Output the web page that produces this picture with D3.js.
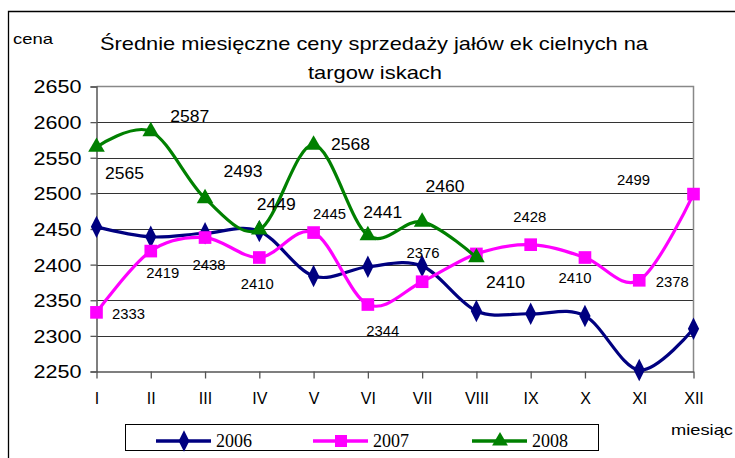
<!DOCTYPE html>
<html><head><meta charset="utf-8">
<script src="https://cdn.jsdelivr.net/npm/d3@7"></script>
<style>body{margin:0;background:#fff}svg{display:block}</style>
</head><body><svg id="c" width="735" height="458"></svg>
<script>
const months = ["I","II","III","IV","V","VI","VII","VIII","IX","X","XI","XII"];
const years = ["2006","2007","2008"];
const v2006 = [2453,2439,2444,2447,2384,2397,2398,2335,2331,2328,2252,2310];
const v2007 = [2333,2419,2438,2410,2445,2344,2376,2415,2428,2410,2378,2499];
const v2008 = [2565,2587,2493,2449,2568,2441,2460,2410,null,null,null,null];
const yTicks = [2250,2300,2350,2400,2450,2500,2550,2600,2650];
const title = ["Średnie miesięczne ceny sprzedaży jałów ek cielnych na","targow iskach"];
const yTitle = "cena", xTitle = "miesiąc";
// label offsets (px) from data point to label centre; null = no label
const off2007 = [[32,2],[12,22],[4,27],[-2,26],[16,-19],[15,26],[1,-29],null,[-1,-28],[-10,20],[33,2],[-60,-14]];
const off2008 = [[28,26],[39,-16],[38,-27],[17,-26],[37,-1],[15,-24],[23,-36],[29,24],null,null,null,null];

const svg = d3.select("#c");
const F = "'Liberation Sans', Arial, sans-serif";
const x = d3.scalePoint().domain(months).range([96.5, 693.5]);
const y = d3.scaleLinear().domain([2250, 2650]).range([371.5, 86.5]);

// outer frame
svg.append("path").attr("d","M8.5,460 V11.5 H740").attr("fill","none").attr("stroke","#000").attr("stroke-width",1.3);

// gridlines
svg.append("g").selectAll("line").data(yTicks.filter(d=>d>2250 && d<2650)).join("line")
  .attr("x1",96.5).attr("x2",693.5).attr("y1",d=>Math.round(y(d))+0.5).attr("y2",d=>Math.round(y(d))+0.5)
  .attr("stroke","#333").attr("stroke-width",1);
// plot border top/right
svg.append("path").attr("d",`M96.5,${y(2650)} H693.5 V${y(2250)}`).attr("fill","none").attr("stroke","#888").attr("stroke-width",1.5);

// y axis
const ya = svg.append("g").attr("transform","translate(96.5,0)")
  .call(d3.axisLeft(y).tickValues(yTicks).tickSize(6).tickPadding(9).tickFormat(d3.format("d")));
ya.select(".domain").attr("stroke","#555").attr("stroke-width",1.5);
ya.selectAll(".tick line").attr("stroke","#555").attr("stroke-width",1.3);
ya.selectAll("text").attr("font-family",F).attr("font-size",18).attr("fill","#000")
  .attr("textLength",48).attr("lengthAdjust","spacingAndGlyphs").attr("dy","0.36em");

// x axis
const xa = svg.append("g").attr("transform","translate(0,371.5)")
  .call(d3.axisBottom(x).tickSize(7).tickPadding(14).tickSizeOuter(0));
xa.select(".domain").attr("stroke","#555").attr("stroke-width",1.5);
xa.selectAll(".tick line").attr("stroke","#555").attr("stroke-width",1.3);
xa.selectAll("text").attr("font-family",F).attr("font-size",16).attr("fill","#000");

const line = d3.line().defined(d=>d.v!=null).x(d=>x(d.m)).y(d=>y(d.v)).curve(d3.curveCardinal.tension(0));
const series = [
  {name:"2006", vals:v2006, color:"#000080", shape:d3.symbolDiamond, size:110, offs:null},
  {name:"2007", vals:v2007, color:"#FF00FF", shape:d3.symbolSquare, size:160, offs:off2007, fs:14, tl:33},
  {name:"2008", vals:v2008, color:"#008000", shape:d3.symbolTriangle, size:120, offs:off2008, fs:17, tl:39}
];
series.forEach(s=>{
  const pts = months.map((m,i)=>({m, v:s.vals[i], o:s.offs?s.offs[i]:null}));
  const g = svg.append("g");
  g.append("path").attr("d",line(pts.filter(p=>p.v!=null))).attr("fill","none")
    .attr("stroke",s.color).attr("stroke-width",3.2);
  g.selectAll("path.m").data(pts.filter(p=>p.v!=null)).join("path").attr("class","m")
    .attr("d",d3.symbol().type(s.shape).size(s.size))
    .attr("transform",p=>`translate(${x(p.m)},${y(p.v)})${s.shape===d3.symbolDiamond?" scale(1,1.15)":""}`)
    .attr("fill",s.color);
  s.g = g;
});
// labels on top
series.forEach(s=>{
  if(!s.offs) return;
  const pts = months.map((m,i)=>({m, v:s.vals[i], o:s.offs[i]})).filter(p=>p.v!=null && p.o);
  svg.append("g").selectAll("text").data(pts).join("text")
    .attr("x",p=>x(p.m)+p.o[0]).attr("y",p=>y(p.v)+p.o[1]).attr("dy","0.36em")
    .attr("text-anchor","middle").attr("font-family",F).attr("font-size",s.fs)
    .attr("textLength",s.tl).attr("lengthAdjust","spacingAndGlyphs").text(p=>p.v);
});

// titles
svg.append("text").attr("x",374).attr("y",50).attr("text-anchor","middle").attr("font-family",F)
  .attr("font-size",19).attr("textLength",548).attr("lengthAdjust","spacingAndGlyphs").text(title[0]);
svg.append("text").attr("x",375).attr("y",79).attr("text-anchor","middle").attr("font-family",F)
  .attr("font-size",19).attr("textLength",134).attr("lengthAdjust","spacingAndGlyphs").text(title[1]);
svg.append("text").attr("x",13).attr("y",44).attr("font-family",F).attr("font-size",15)
  .attr("textLength",40).attr("lengthAdjust","spacingAndGlyphs").text(yTitle);
svg.append("text").attr("x",671).attr("y",435).attr("font-family",F).attr("font-size",15)
  .attr("textLength",62).attr("lengthAdjust","spacingAndGlyphs").text(xTitle);

// legend
const lg = svg.append("g");
lg.append("rect").attr("x",125.5).attr("y",424.5).attr("width",473).attr("height",26)
  .attr("fill","#fff").attr("stroke","#000").attr("stroke-width",1);
const lx = d3.scaleOrdinal().domain(years).range([156,313,472]);
series.forEach(s=>{
  const x0 = lx(s.name);
  lg.append("line").attr("x1",x0).attr("x2",x0+55).attr("y1",441).attr("y2",441)
    .attr("stroke",s.color).attr("stroke-width",3.5);
  lg.append("path").attr("d",d3.symbol().type(s.shape).size(s.size*0.9))
    .attr("transform",`translate(${x0+28},441)${s.shape===d3.symbolDiamond?" scale(1,1.15)":""}`).attr("fill",s.color);
  lg.append("text").attr("x",x0+60).attr("y",447).attr("font-family","'Liberation Serif','Times New Roman',serif")
    .attr("font-size",18).text(s.name);
});
</script></body></html>
